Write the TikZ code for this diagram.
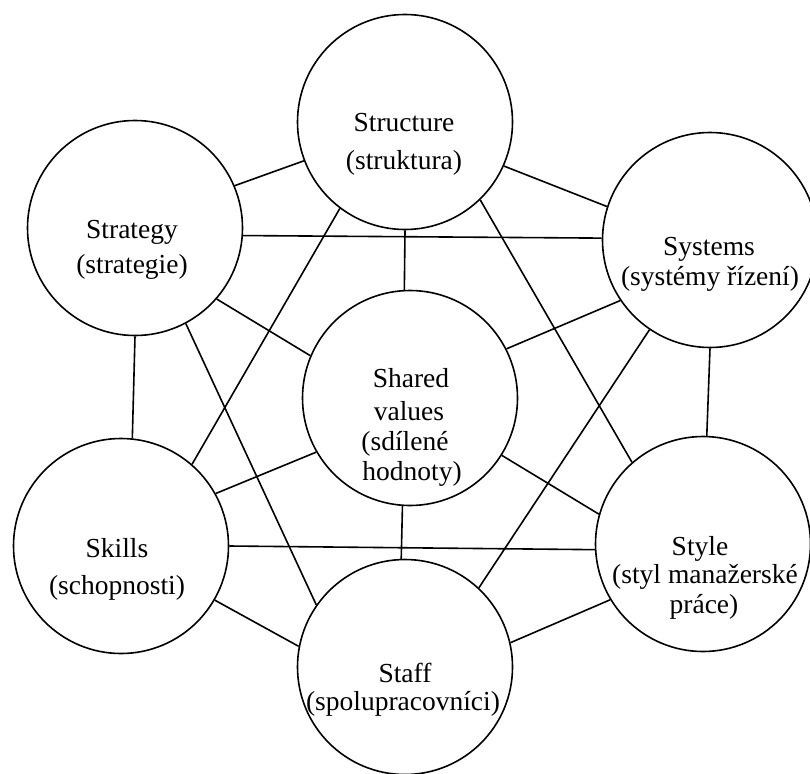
\documentclass[tikz,border=0pt]{standalone}
\usepackage{fontspec}
\setmainfont{Liberation Serif}
\begin{document}
\begin{tikzpicture}[x=1pt,y=-1pt,
  ring/.style={circle,draw,line width=1.6pt,minimum size=215pt,inner sep=0pt},
  link/.style={line width=1.6pt},
  lbl/.style={anchor=base,inner sep=0pt,font=\fontsize{27.5}{30}\selectfont}]
\useasboundingbox (0,0) rectangle (810,773);
\fill[white] (0,0) rectangle (810,773);
\clip (0,0) rectangle (810,773);

% the seven elements
\node[ring] (str) at (405,122) {};
\node[ring] (stg) at (135,228) {};
\node[ring] (sys) at (710,240) {};
\node[ring] (shv) at (410,398) {};
\node[ring] (skl) at (121,546) {};
\node[ring] (sty) at (703,544) {};
\node[ring] (stf) at (405,667) {};

% labels
\node[lbl] (str-a) at (404,131.7) {Structure};
\node[lbl] (str-b) at (404,169) {(struktura)};
\node[lbl] (stg-a) at (132,238) {Strategy};
\node[lbl] (stg-b) at (132,273) {(strategie)};
\node[lbl] (sys-a) at (709,255) {Systems};
\node[lbl] (sys-b) at (710,285) {(systémy řízení)};
\node[lbl] (shv-a) at (411,387) {Shared};
\node[lbl] (shv-b) at (409,420) {values};
\node[lbl] (shv-c) at (405,450) {(sdílené};
\node[lbl] (shv-d) at (412,480) {hodnoty)};
\node[lbl] (skl-a) at (117,557) {Skills};
\node[lbl] (skl-b) at (117,594) {(schopnosti)};
\node[lbl] (sty-a) at (700,555) {Style};
\node[lbl] (sty-b) at (705,583) {(styl manažerské};
\node[lbl] (sty-c) at (704,613) {práce)};
\node[lbl] (stf-a) at (405,682) {Staff};
\node[lbl] (stf-b) at (403,710) {(spolupracovníci)};

% links between the elements
\draw[link] (str.201) -- (stg.23);
\draw[link] (str.336) -- (sys.162);
\draw[link] (str.270) -- (shv.93);
\draw[link] (str.233) -- (skl.49);
\draw[link] (str.314) -- (sty.131);
\draw[link] (stg.356) -- (sys.179);
\draw[link] (stg.319) -- (shv.157);
\draw[link] (stg.270) -- (skl.84);
\draw[link] (stg.298) -- (stf.145);
\draw[link] (sys.214) -- (shv.27);
\draw[link] (sys.236) -- (stf.47);
\draw[link] (sys.270) -- (sty.88);
\draw[link] (shv.210) -- (skl.29);
\draw[link] (shv.328) -- (sty.164);
\draw[link] (shv.266) -- (stf.92);
\draw[link] (skl.0) -- (sty.183);
\draw[link] (skl.330) -- (stf.169);
\draw[link] (sty.211) -- (stf.13);
\end{tikzpicture}
\end{document}
